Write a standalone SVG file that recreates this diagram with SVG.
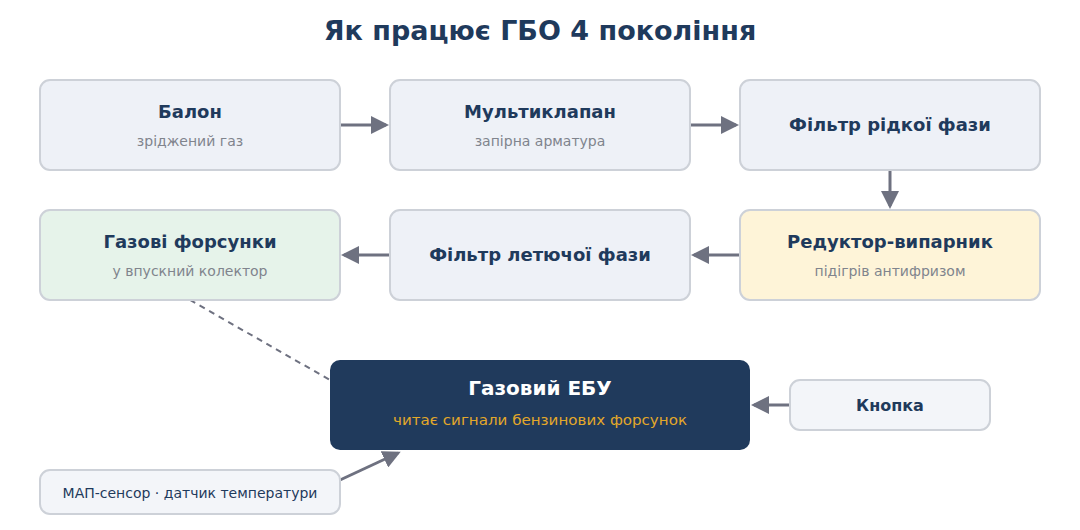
<svg xmlns="http://www.w3.org/2000/svg" width="1080" height="530" viewBox="0 0 1080 530">
<defs>
<marker id="ah" markerWidth="6" markerHeight="6" refX="5" refY="3" orient="auto" markerUnits="strokeWidth">
<path d="M0,0 L6,3 L0,6 Z" fill="#6e7180"/>
</marker>
<style>
text{font-family:"DejaVu Sans","Noto Sans",sans-serif;text-anchor:middle}
.box{fill:#eef1f7;stroke:#cdd1d8;stroke-width:2}
.t{font-size:18px;font-weight:bold;fill:#1f3a5c}
.s{font-size:14px;fill:#80848d}
.c{stroke:#6e7180;stroke-width:3;fill:none;marker-end:url(#ah)}
</style>
</defs>
<rect width="1080" height="530" fill="#ffffff"/>
<text x="540" y="40" style="font-size:27px;font-weight:bold;fill:#1f3a5c">Як працює ГБО 4 покоління</text>
<g id="connectors">
<line class="c" x1="340" y1="125" x2="386" y2="125"/>
<line class="c" x1="690" y1="125" x2="736" y2="125"/>
<line class="c" x1="890" y1="170" x2="890" y2="206"/>
<line class="c" x1="740" y1="255" x2="694" y2="255"/>
<line class="c" x1="390" y1="255" x2="344" y2="255"/>
<line x1="190" y1="300" x2="330" y2="380" stroke="#6e7180" stroke-width="2" stroke-dasharray="6,5"/>
<line class="c" x1="340" y1="480" x2="398" y2="453"/>
<line class="c" x1="790" y1="405" x2="754" y2="405"/>
</g>
<g id="balon">
<rect class="box" x="40" y="80" width="300" height="90" rx="10"/>
<text class="t" x="190" y="118">Балон</text>
<text class="s" x="190" y="146">зріджений газ</text>
</g>
<g id="multiklapan">
<rect class="box" x="390" y="80" width="300" height="90" rx="10"/>
<text class="t" x="540" y="118">Мультиклапан</text>
<text class="s" x="540" y="146">запірна арматура</text>
</g>
<g id="filtr-ridkoi">
<rect class="box" x="740" y="80" width="300" height="90" rx="10"/>
<text class="t" x="890" y="131">Фільтр рідкої фази</text>
</g>
<g id="reduktor">
<rect class="box" x="740" y="210" width="300" height="90" rx="10" style="fill:#fef4d8"/>
<text class="t" x="890" y="248">Редуктор-випарник</text>
<text class="s" x="890" y="276">підігрів антифризом</text>
</g>
<g id="filtr-letuchoi">
<rect class="box" x="390" y="210" width="300" height="90" rx="10"/>
<text class="t" x="540" y="261">Фільтр летючої фази</text>
</g>
<g id="forsunky">
<rect class="box" x="40" y="210" width="300" height="90" rx="10" style="fill:#e6f3ea"/>
<text class="t" x="190" y="248">Газові форсунки</text>
<text class="s" x="190" y="276">у впускний колектор</text>
</g>
<g id="ebu">
<rect x="330" y="360" width="420" height="90" rx="10" fill="#203a5c"/>
<text x="540" y="395" style="font-size:20px;font-weight:bold;fill:#ffffff">Газовий ЕБУ</text>
<text x="540" y="425" style="font-size:14px;fill:#e3a82a" textLength="294" lengthAdjust="spacingAndGlyphs">читає сигнали бензинових форсунок</text>
</g>
<g id="knopka">
<rect x="790" y="380" width="200" height="50" rx="10" fill="#f3f5f9" stroke="#cdd1d8" stroke-width="2"/>
<text class="t" x="890" y="411" style="font-size:16px">Кнопка</text>
</g>
<g id="map">
<rect x="40" y="470" width="300" height="44" rx="10" fill="#f3f5f9" stroke="#cdd1d8" stroke-width="2"/>
<text x="190" y="498" style="font-size:14px;fill:#1f3a5c">МАП-сенсор · датчик температури</text>
</g>
</svg>
